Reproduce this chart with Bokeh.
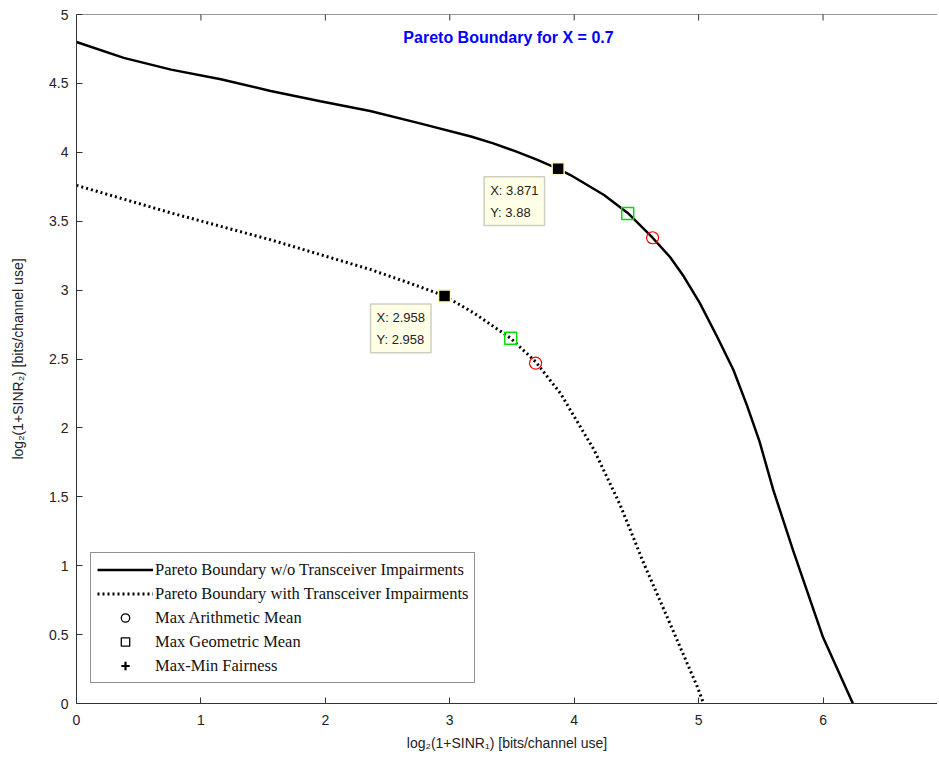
import math
from bokeh.plotting import figure
from bokeh.models import Range1d, FixedTicker, Label, Legend, LegendItem, Span
from bokeh.embed import file_html
from bokeh.resources import INLINE

# Pareto boundary without transceiver impairments (solid)
solid_x = [0.0, 0.38, 0.76, 1.16, 1.56, 1.96, 2.36, 2.76, 3.17, 3.35, 3.52, 3.70, 3.871, 3.97,
           4.24, 4.43, 4.63, 4.77, 4.88, 5.01, 5.15, 5.28, 5.39, 5.49, 5.60, 5.76, 6.0, 6.24]
solid_y = [4.80, 4.685, 4.60, 4.53, 4.445, 4.37, 4.30, 4.21, 4.115, 4.065, 4.01, 3.947, 3.88, 3.835,
           3.69, 3.56, 3.38, 3.24, 3.10, 2.905, 2.66, 2.42, 2.16, 1.90, 1.55, 1.11, 0.48, 0.0]

# Pareto boundary with transceiver impairments (dashed)
dashed_x = [0.0, 0.76, 1.56, 2.36, 2.68, 2.958, 3.20, 3.49, 3.69, 3.89, 4.16, 4.37, 4.56, 4.77, 4.99, 5.04]
dashed_y = [3.76, 3.56, 3.365, 3.15, 3.05, 2.958, 2.83, 2.65, 2.48, 2.25, 1.84, 1.44, 1.015, 0.58, 0.12, 0.0]

# Operating points
arith_x = [4.63, 3.69]
arith_y = [3.38, 2.47]
geo_x = [4.43, 3.49]
geo_y = [3.555, 2.65]
tip_x = [3.871, 2.958]
tip_y = [3.88, 2.958]
tip_labels = ["X: 3.871\nY: 3.88", "X: 2.958\nY: 2.958"]

x_ticks = [0, 1, 2, 3, 4, 5, 6]
y_ticks = [0, 0.5, 1, 1.5, 2, 2.5, 3, 3.5, 4, 4.5, 5]
y_tick_labels = ["0", "0.5", "1", "1.5", "2", "2.5", "3", "3.5", "4", "4.5", "5"]

title_text = "Pareto Boundary for X =  0.7"
x_label = "log\u2082(1+SINR\u2081) [bits/channel use]"
y_label = "log\u2082(1+SINR\u2082) [bits/channel use]"
legend_labels = ["Pareto Boundary w/o Transceiver Impairments",
                 "Pareto Boundary with Transceiver Impairments",
                 "Max Arithmetic Mean",
                 "Max Geometric Mean",
                 "Max-Min Fairness"]

FONT = "Liberation Sans"
X_END = 6.92
Y_END = 5

p = figure(width=937, height=755, x_range=Range1d(0, X_END), y_range=Range1d(0, Y_END),
           output_backend="svg", toolbar_location=None,
           min_border_left=76, min_border_right=0, min_border_top=14, min_border_bottom=52)
p.grid.visible = False
p.outline_line_color = None
p.background_fill_color = "white"
p.border_fill_color = "white"

xa = p.xaxis[0]
ya = p.yaxis[0]
xa.ticker = FixedTicker(ticks=x_ticks)
ya.ticker = FixedTicker(ticks=y_ticks)
ya.major_label_overrides = {float(t): l for t, l in zip(y_ticks, y_tick_labels)}
for ax in (xa, ya):
    ax.major_tick_in = 6
    ax.major_tick_out = 0
    ax.minor_tick_line_color = None
    ax.axis_line_color = "#333333"
    ax.major_tick_line_color = "#333333"
    ax.major_label_text_font = FONT
    ax.major_label_text_font_size = "14px"
    ax.major_label_text_color = "#222222"
    ax.axis_label_text_font = FONT
    ax.axis_label_text_font_size = "14px"
    ax.axis_label_text_font_style = "normal"
    ax.axis_label_text_color = "#222222"
xa.axis_label = x_label
ya.axis_label = y_label
xa.major_label_standoff = 11
xa.axis_label_standoff = 7
ya.major_label_standoff = 8
ya.axis_label_standoff = 20

# top box edge with inward ticks
p.add_layout(Span(location=Y_END, dimension="width", line_color="#333333", line_width=1))
p.scatter(x_ticks, [Y_END] * len(x_ticks), marker="dash", angle=math.pi / 2, size=12,
          line_color="#333333", line_width=1)

r_solid = p.line(solid_x, solid_y, line_color="black", line_width=2.5)
r_dashed = p.line(dashed_x, dashed_y, line_color="black", line_width=3, line_dash="2 3")

p.scatter(arith_x, arith_y, marker="circle", size=12, fill_color=None, line_color="red", line_width=1.2)
p.scatter(geo_x, geo_y, marker="square", size=12, fill_color=None, line_color="#00dd00", line_width=1.5)
p.scatter(tip_x, tip_y, marker="square", size=12, fill_color="black", line_color="#fffac8", line_width=1.5)

# legend-only renderers (no visible data)
nan = [float("nan")]
leg_circle = p.scatter(nan, nan, marker="circle", size=10, fill_color=None, line_color="black", line_width=1.3)
leg_square = p.scatter(nan, nan, marker="square", size=12, fill_color=None, line_color="black", line_width=1.3)
leg_cross = p.scatter(nan, nan, marker="cross", size=16, fill_color=None, line_color="black", line_width=2.2)

for tx, ty, tl in zip(tip_x, tip_y, tip_labels):
    p.add_layout(Label(x=tx, y=ty, text=tl, x_offset=-74, y_offset=-8, anchor="top_left",
                       text_font=FONT, text_font_size="13px", text_color="#222222",
                       text_line_height=1.45, padding=6,
                       background_fill_color="#ffffe8", border_line_color="#cfcfc0",
                       border_line_width=1.5))

p.add_layout(Label(x=3.49, y=4.83, text=title_text, text_align="center", text_baseline="middle",
                   text_font=FONT, text_font_size="16px", text_font_style="bold", text_color="#0000ff"))

legend = Legend(items=[LegendItem(label=legend_labels[0], renderers=[r_solid]),
                       LegendItem(label=legend_labels[1], renderers=[r_dashed]),
                       LegendItem(label=legend_labels[2], renderers=[leg_circle]),
                       LegendItem(label=legend_labels[3], renderers=[leg_square]),
                       LegendItem(label=legend_labels[4], renderers=[leg_cross])],
                location=(14, 20), margin=0, padding=6, spacing=3,
                glyph_width=56, glyph_height=21, label_height=21, label_standoff=2,
                label_text_font="Liberation Serif", label_text_font_size="16.5px",
                label_text_color="#111111",
                border_line_color="#222222", border_line_width=1.5,
                background_fill_color="white", background_fill_alpha=1.0)
p.add_layout(legend, "center")

open("out.html", "w").write(file_html(p, INLINE))
